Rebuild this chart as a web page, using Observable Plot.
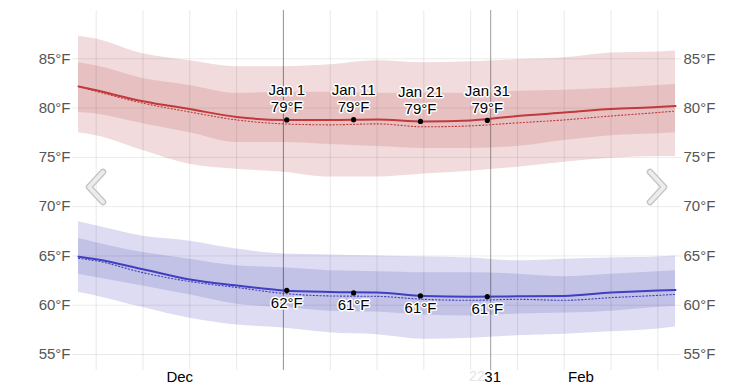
<!DOCTYPE html>
<html><head><meta charset="utf-8">
<script src="https://cdn.jsdelivr.net/npm/d3@7"></script>
<script src="https://cdn.jsdelivr.net/npm/@observablehq/plot@0.6"></script>
<style>
body{margin:0;background:#fff;font-family:"Liberation Sans",Arial,Helvetica,sans-serif}
</style>
</head><body><div id="chart"></div>
<script>
// ---- data ----
const dates = ["2023-12-01T08:30","2023-12-04T00:00","2023-12-11T00:00","2023-12-18T00:00","2023-12-25T00:00","2024-01-01T00:00","2024-01-08T00:00","2024-01-15T00:00","2024-01-22T00:00","2024-01-29T00:00","2024-02-05T00:00","2024-02-12T00:00","2024-02-19T00:00","2024-02-26T00:00","2024-02-28T15:25"];
const highP90 = [87.3,87.0,85.5,84.8,84.2,84.2,84.4,84.8,84.6,84.7,84.9,85.1,85.6,85.7,85.8];
const highP75 = [84.6,84.3,83.0,82.3,81.5,81.6,81.6,81.5,81.5,81.5,81.7,81.8,82.0,82.3,82.4];
const highAvg = [82.2,81.8,80.7,79.9,79.1,78.8,78.8,78.85,78.65,78.75,79.2,79.55,79.9,80.1,80.2];
const highAlt = [82.2,81.7,80.5,79.6,78.8,78.4,78.3,78.4,78.1,78.2,78.5,78.8,79.2,79.55,79.7];
const highP25 = [79.55,79.4,78.4,77.5,76.5,76.5,76.3,76.1,75.9,75.9,76.1,76.7,77.2,77.4,77.5];
const highP10 = [77.5,77.2,75.7,74.3,73.8,73.5,73.0,73.0,73.3,73.6,74.0,74.5,74.9,75.1,75.1];
const lowP90 = [68.46,68.05,67.0,66.5,65.7,65.2,65.1,65.0,64.9,64.8,64.5,64.67,64.8,64.9,65.0];
const lowP75 = [66.76,66.35,65.34,64.67,64.0,63.8,63.5,63.4,63.3,63.3,63.15,62.9,63.15,63.4,63.5];
const lowAvg = [64.93,64.67,63.65,62.6,62.0,61.5,61.35,61.3,60.94,60.87,60.9,60.94,61.28,61.5,61.55];
const lowAlt = [64.75,64.5,63.3,62.4,61.8,61.2,60.94,60.9,60.6,60.5,60.6,60.5,60.77,61.0,61.1];
const lowP25 = [63.15,62.8,61.96,61.05,60.1,59.76,59.4,59.3,59.0,58.9,59.1,59.2,59.4,59.8,59.9];
const lowP10 = [61.28,60.94,59.76,58.68,58.0,57.7,57.2,57.0,56.55,56.65,56.9,57.05,57.3,57.6,57.8];

const markDates = ["2024-01-01T12:00","2024-01-11T12:00","2024-01-21T12:00","2024-01-31T12:00"];
const markNames = ["Jan 1","Jan 11","Jan 21","Jan 31"];
const markHigh = [78.8,78.82,78.65,78.75];
const markLow = [61.5,61.25,60.94,60.87];

const gridDates = ["2023-12-04","2023-12-11","2023-12-18","2023-12-25","2024-01-01","2024-01-08","2024-01-15","2024-01-22","2024-01-29","2024-02-05","2024-02-12","2024-02-19","2024-02-26"].map(d => d + "T00:00");
const rangeLines = ["2024-01-01T00:00","2024-02-01T00:00"];
const monthDates = ["2023-12-16T12:00","2024-02-14T12:00"];
const monthNames = ["Dec","Feb"];
const dayLabelDate = ["2024-02-01T00:00"];
const dayLabel = ["31"];
const ghostLabel = ["22"];
const yTicks = [55,60,65,70,75,80,85];
const xDomain = ["2023-12-01T08:30","2024-02-28T15:25"];
const yDomain = [53.58, 89.9];

// ---- tables built from arrays ----
const P = s => new Date(s);
const rows = dates.map((d,i)=>({date:P(d), hp90:highP90[i], hp75:highP75[i], havg:highAvg[i], halt:highAlt[i], hp25:highP25[i], hp10:highP10[i],
  lp90:lowP90[i], lp75:lowP75[i], lavg:lowAvg[i], lalt:lowAlt[i], lp25:lowP25[i], lp10:lowP10[i]}));
const marks = markDates.map((d,i)=>({date:P(d), name:markNames[i], hi:markHigh[i], lo:markLow[i]}));
const fmt = v => `${Math.round(v)}°F`;

const halo = {stroke:"white", strokeWidth:3, paintOrder:"stroke", fill:"#000", fontSize:15};

const chart = Plot.plot({
  width: 753, height: 387,
  marginLeft: 78, marginRight: 78, marginTop: 10, marginBottom: 19,
  style: {fontFamily: '"Liberation Sans", Arial, Helvetica, sans-serif', fontSize: "15px", color: "#555", background: "#fff"},
  x: {type: "time", domain: xDomain.map(P), axis: null},
  y: {domain: yDomain, axis: null},
  marks: [
    // high temperature bands
    Plot.areaY(rows, {x:"date", y1:"hp10", y2:"hp90", fill:"#f1dbdc", curve:"monotone-x"}),
    Plot.areaY(rows, {x:"date", y1:"hp25", y2:"hp75", fill:"#e7c1c2", curve:"monotone-x"}),
    // low temperature bands
    Plot.areaY(rows, {x:"date", y1:"lp10", y2:"lp90", fill:"#dddcf2", curve:"monotone-x"}),
    Plot.areaY(rows, {x:"date", y1:"lp25", y2:"lp75", fill:"#c2c1e6", curve:"monotone-x"}),
    // grid
    Plot.ruleY(yTicks, {stroke:"#000", strokeOpacity:0.08, insetLeft:-6, insetRight:-6}),
    Plot.ruleX(gridDates.map(P), {stroke:"#000", strokeOpacity:0.09, insetBottom:-2}),
    Plot.ruleX(rangeLines.map(P), {stroke:"#000", strokeOpacity:0.38, insetBottom:-2}),
    // lines
    Plot.line(rows, {x:"date", y:"halt", stroke:"#c0393b", strokeWidth:1.1, strokeDasharray:"1.2 2.2", curve:"monotone-x"}),
    Plot.line(rows, {x:"date", y:"havg", stroke:"#c0393b", strokeWidth:2, curve:"monotone-x"}),
    Plot.line(rows, {x:"date", y:"lalt", stroke:"#3f3fc2", strokeWidth:1.1, strokeDasharray:"1.2 2.2", curve:"monotone-x"}),
    Plot.line(rows, {x:"date", y:"lavg", stroke:"#3f3fc2", strokeWidth:2, curve:"monotone-x"}),
    // annotations
    Plot.dot(marks, {x:"date", y:"hi", r:2.6, fill:"#000"}),
    Plot.dot(marks, {x:"date", y:"lo", r:2.6, fill:"#000"}),
    Plot.text(marks, {x:"date", y:"hi", text:"name", dy:-29.5, lineAnchor:"middle", ...halo}),
    Plot.text(marks, {x:"date", y:"hi", text:d=>fmt(d.hi), dy:-12.3, lineAnchor:"middle", ...halo}),
    Plot.text(marks, {x:"date", y:"lo", text:d=>fmt(d.lo), dy:12.5, lineAnchor:"middle", ...halo}),
    // y axes
    Plot.axisY(yTicks, {anchor:"left", tickSize:0, tickPadding:8, tickFormat:d=>`${d}°F`, fill:"#555", fontSize:15}),
    Plot.axisY(yTicks, {anchor:"right", tickSize:0, tickPadding:8, tickFormat:d=>`${d}°F`, fill:"#555", fontSize:15}),
    // x labels
    Plot.text(monthNames, {x:(d,i)=>P(monthDates[i]), text:d=>d, frameAnchor:"bottom", dy:8.5, lineAnchor:"middle", fill:"#000", fontSize:15}),
    Plot.text(ghostLabel, {x:(d,i)=>P(dayLabelDate[i]), text:d=>d, frameAnchor:"bottom", dy:8.5, dx:-6, textAnchor:"end", lineAnchor:"middle", fill:"#e4e4e4", fontSize:14}),
    Plot.text(dayLabel, {x:(d,i)=>P(dayLabelDate[i]), text:d=>d, frameAnchor:"bottom", dy:8.5, dx:2, lineAnchor:"middle", fill:"#000", fontSize:15})
  ]
});

// navigation chevrons (decoration, placed relative to the frame)
const svg = d3.select(chart);
const midY = (10 + (387 - 19)) / 2 - 2;
function chevron(cx, dir) {
  const pts = [[cx + 7*dir, midY - 15], [cx - 7*dir, midY], [cx + 7*dir, midY + 15]];
  const line = d3.line();
  svg.append("path").attr("d", line(pts)).attr("fill","none").attr("stroke","#c4c4c4").attr("stroke-width",6.5).attr("stroke-linecap","round").attr("stroke-linejoin","round");
  svg.append("path").attr("d", line(pts)).attr("fill","none").attr("stroke","#ececec").attr("stroke-width",4).attr("stroke-linecap","round").attr("stroke-linejoin","round");
}
chevron(78 + 18, 1);
chevron(753 - 78 - 18, -1);

document.getElementById("chart").appendChild(chart);
</script>
</body></html>
